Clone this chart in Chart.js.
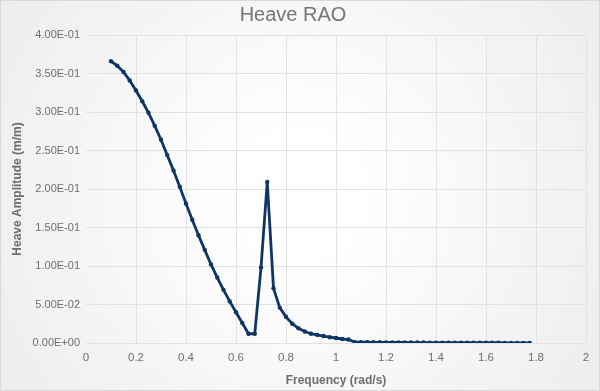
<!DOCTYPE html>
<html>
<head>
<meta charset="utf-8">
<script src="https://cdn.jsdelivr.net/npm/chart.js@4/dist/chart.umd.min.js"></script>
<style>
  body { margin: 0; background: #fff; }
  #wrap { width: 600px; height: 391px; }
</style>
</head>
<body>
<div id="wrap"><canvas id="rao" width="600" height="391"></canvas></div>
<script>
// Heave RAO data
const frequency = [
  0.1, 0.125, 0.15, 0.175, 0.2, 0.225, 0.25, 0.275, 0.3, 0.325,
  0.35, 0.375, 0.4, 0.425, 0.45, 0.475, 0.5, 0.525, 0.55, 0.575,
  0.6, 0.625, 0.65, 0.675, 0.7, 0.725, 0.75, 0.775, 0.8, 0.825,
  0.85, 0.875, 0.9, 0.925, 0.95, 0.975, 1.0, 1.025, 1.05, 1.075,
  1.1, 1.125, 1.15, 1.175, 1.2, 1.225, 1.25, 1.275, 1.3, 1.325,
  1.35, 1.375, 1.4, 1.425, 1.45, 1.475, 1.5, 1.525, 1.55, 1.575,
  1.6, 1.625, 1.65, 1.675, 1.7, 1.725, 1.75, 1.775
];
const heaveAmp = [
  0.366, 0.360, 0.352, 0.341, 0.328, 0.314, 0.299, 0.282, 0.264, 0.244,
  0.224, 0.203, 0.181, 0.160, 0.140, 0.121, 0.102, 0.085, 0.069, 0.054,
  0.040, 0.026, 0.012, 0.012, 0.098, 0.209, 0.071, 0.046, 0.034, 0.025,
  0.019, 0.015, 0.012, 0.0105, 0.009, 0.0075, 0.0065, 0.0052, 0.0045, 0.0012,
  0.0011, 0.0010, 0.0009, 0.0009, 0.0008, 0.0008, 0.0007, 0.0007, 0.0006, 0.0006,
  0.0006, 0.0005, 0.0005, 0.0005, 0.0004, 0.0004, 0.0004, 0.0004, 0.0003, 0.0003,
  0.0003, 0.0003, 0.0003, 0.0002, 0.0002, 0.0002, 0.0002, 0.0002
];

const lineColor = '#0f3564';
const textColor = '#6e6e6e';

// Excel-like "4.00E-01" formatting
function sci(v) {
  const [m, e] = v.toExponential(2).split('e');
  const n = parseInt(e, 10);
  return m + 'E' + (n < 0 ? '-' : '+') + String(Math.abs(n)).padStart(2, '0');
}

const backdrop = {
  id: 'backdrop',
  beforeDraw(chart) {
    const { ctx, width, height } = chart;
    ctx.save();
    const g = ctx.createRadialGradient(width / 2, height / 2, 60, width / 2, height / 2, width * 0.62);
    g.addColorStop(0, '#ffffff');
    g.addColorStop(1, '#ececec');
    ctx.fillStyle = g;
    ctx.fillRect(0, 0, width, height);
    ctx.strokeStyle = '#d9d9d9';
    ctx.lineWidth = 1;
    ctx.strokeRect(0.5, 0.5, width - 1, height - 1);
    ctx.restore();
  }
};

new Chart(document.getElementById('rao'), {
  type: 'scatter',
  data: {
    datasets: [{
      label: 'Heave RAO',
      data: frequency.map((f, i) => ({ x: f, y: heaveAmp[i] })),
      showLine: true,
      borderColor: lineColor,
      backgroundColor: lineColor,
      borderWidth: 2.8,
      pointRadius: 2.2,
      pointBorderWidth: 0,
      tension: 0
    }]
  },
  options: {
    responsive: false,
    animation: false,
    layout: { padding: { left: 0, right: 14, top: 0, bottom: 0 } },
    plugins: {
      legend: { display: false },
      tooltip: { enabled: false },
      title: {
        display: true,
        text: 'Heave RAO',
        color: '#767676',
        font: { family: 'Liberation Sans', size: 20, weight: 'normal' },
        padding: { top: 3, bottom: 8 }
      }
    },
    scales: {
      x: {
        type: 'linear',
        min: 0,
        max: 2,
        ticks: {
          stepSize: 0.2,
          color: textColor,
          padding: 8,
          font: { family: 'Liberation Sans', size: 11.5 },
          callback: v => String(+v.toFixed(1))
        },
        grid: {
          color: ctx => ctx.tick && ctx.tick.value === 0 ? 'rgba(0,0,0,0)' : '#e2e2e2',
          drawTicks: false
        },
        border: { display: false },
        title: {
          display: true,
          text: 'Frequency (rad/s)',
          color: textColor,
          font: { family: 'Liberation Sans', size: 12, weight: 'bold' },
          padding: { top: 0, bottom: 3 }
        },
        afterFit: s => { s.height = 48; }
      },
      y: {
        min: 0,
        max: 0.4,
        ticks: {
          stepSize: 0.05,
          color: textColor,
          padding: 6,
          font: { family: 'Liberation Sans', size: 11 },
          callback: v => sci(v)
        },
        grid: { color: '#e2e2e2', drawTicks: false },
        border: { display: false },
        title: {
          display: true,
          text: 'Heave Amplitude (m/m)',
          color: textColor,
          font: { family: 'Liberation Sans', size: 12, weight: 'bold' },
          padding: { top: 10, bottom: 0 }
        },
        afterFit: s => { s.width = 86; }
      }
    }
  },
  plugins: [backdrop]
});
</script>
</body>
</html>
